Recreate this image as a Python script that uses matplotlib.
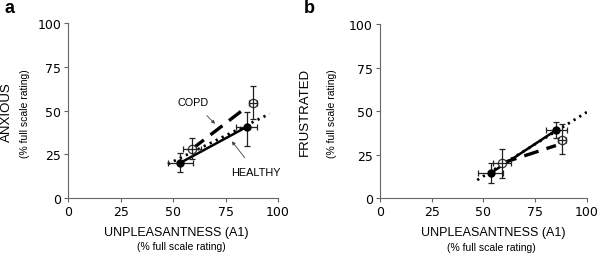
import numpy as np
import matplotlib.pyplot as plt

plt.rcParams['font.family'] = 'DejaVu Sans'

# unpleasantness (x) shared by both panels
healthy_x = [53.5, 85.2]
healthy_xerr = [6.0, 5.0]
copd_x = [59.0, 88.0]
copd_xerr = [4.5, 2.0]

# panel a: anxious
anx_healthy = [20.3, 40.8]
anx_healthy_err = [[5.5, 10.8], [5.7, 8.6]]
anx_copd = [28.1, 54.4]
anx_copd_err = [[5.8, 9.0], [6.1, 9.5]]
anx_copd_line_x = [59.0, 85.0]
anx_copd_line_y = [28.1, 52.0]
anx_fit_x = [47.5, 96.0]
anx_fit_y = [19.5, 48.2]

# panel b: frustrated
fru_healthy = [14.5, 39.2]
fru_healthy_err = [[5.5, 4.8], [6.0, 4.8]]
fru_copd = [20.2, 33.6]
fru_copd_err = [[8.3, 8.2], [8.1, 9.0]]
fru_copd_line_x = [59.0, 85.0]
fru_copd_line_y = [20.2, 30.3]
fru_fit_x = [47.0, 100.0]
fru_fit_y = [10.5, 49.5]

ticks = [0, 25, 50, 75, 100]

fig = plt.figure(figsize=(6.0, 2.55), dpi=100)
ax_a = fig.add_axes([0.1138, 0.2184, 0.3495, 0.6875])
ax_b = fig.add_axes([0.6333, 0.2184, 0.345, 0.6835])


def panel(ax, hy, hyerr, cy, cyerr, lx, ly, fx, fy, ylabel, ypos, xpos):
    ax.plot(fx, fy, color='black', lw=2.0, ls=(0, (0.8, 1.6)), zorder=2)
    ax.plot(lx, ly, color='black', lw=2.4, ls=(0, (4.5, 2.5)), zorder=3)
    ax.plot(healthy_x, hy, color='black', lw=1.8, zorder=3)
    # open COPD markers, error bars drawn across them
    ax.plot(copd_x, cy, 'o', ms=6, mfc='white', mec='#333333', mew=0.9, zorder=4)
    ax.errorbar(copd_x, cy, xerr=copd_xerr, yerr=cyerr, fmt='none',
                ecolor='#222222', elinewidth=0.9, capsize=2.5, capthick=0.9, zorder=4.5)
    ax.errorbar(healthy_x, hy, xerr=healthy_xerr, yerr=hyerr,
                fmt='o', ms=5, mfc='black', mec='black',
                ecolor='#222222', elinewidth=0.9, capsize=2.5, capthick=0.9, zorder=5)
    ax.set_xlim(0, 100)
    ax.set_ylim(0, 100)
    ax.set_xticks(ticks)
    ax.set_yticks(ticks)
    for s in ['top', 'right']:
        ax.spines[s].set_visible(False)
    for s in ['left', 'bottom']:
        ax.spines[s].set_color('#666666')
        ax.spines[s].set_linewidth(0.8)
    ax.tick_params(length=3, width=0.8, color='#666666', labelsize=9, pad=2)
    ax.text(xpos[0], -0.192, 'UNPLEASANTNESS (A1)', transform=ax.transAxes,
            ha='center', va='center', family='Liberation Sans', fontsize=9)
    ax.text(xpos[1], xpos[2], '(% full scale rating)', transform=ax.transAxes,
            ha='center', va='center', family='Liberation Sans', fontsize=7.5)
    ax.text(ypos[0], 0.5, ylabel, transform=ax.transAxes, rotation=90,
            ha='center', va='center', family='Liberation Sans', fontsize=9.5)
    ax.text(ypos[1], 0.49, '(% full scale rating)', transform=ax.transAxes, rotation=90,
            ha='center', va='center', family='Liberation Sans', fontsize=7.5)


panel(ax_a, anx_healthy, anx_healthy_err, anx_copd, anx_copd_err,
      anx_copd_line_x, anx_copd_line_y, anx_fit_x, anx_fit_y, 'ANXIOUS',
      (-0.29, -0.206), (0.516, 0.537, -0.27))
panel(ax_b, fru_healthy, fru_healthy_err, fru_copd, fru_copd_err,
      fru_copd_line_x, fru_copd_line_y, fru_fit_x, fru_fit_y, 'FRUSTRATED',
      (-0.362, -0.232), (0.546, 0.536, -0.28))

ax_a.annotate('COPD', xy=(70, 42.5), xytext=(59.5, 55), ha='center', va='center',
              family='Liberation Sans', fontsize=7.8,
              arrowprops=dict(arrowstyle='-|>', lw=0.6, color='#444444',
                              mutation_scale=5, shrinkA=6, shrinkB=0))
ax_a.annotate('HEALTHY', xy=(78, 32.5), xytext=(89.5, 15), ha='center', va='center',
              family='Liberation Sans', fontsize=7.8,
              arrowprops=dict(arrowstyle='-|>', lw=0.6, color='#444444',
                              mutation_scale=5, shrinkA=6, shrinkB=0))

fig.text(0.008, 0.965, 'a', fontsize=13, fontweight='bold', va='center', family='Liberation Sans')
fig.text(0.507, 0.965, 'b', fontsize=13, fontweight='bold', va='center', family='Liberation Sans')

fig.savefig('out.png', dpi=100)
